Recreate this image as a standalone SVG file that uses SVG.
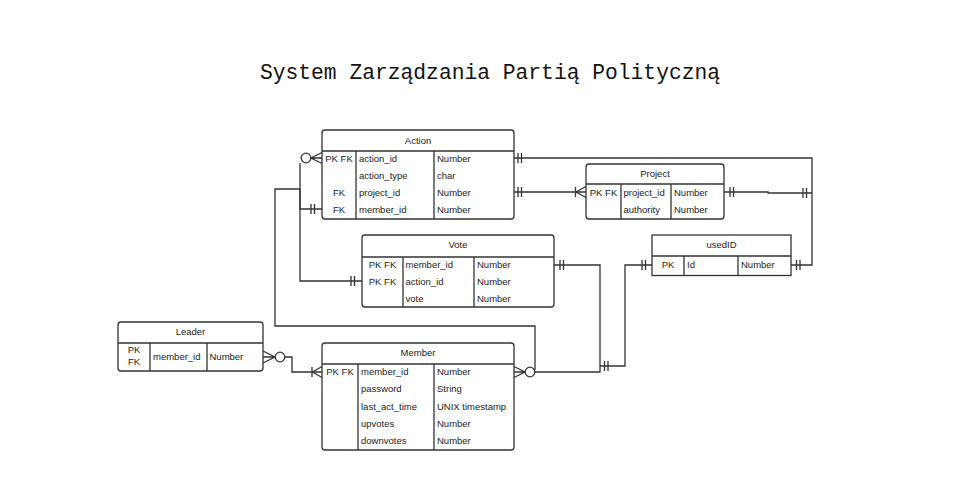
<svg xmlns="http://www.w3.org/2000/svg" width="956" height="496" viewBox="0 0 956 496">
<style>
.box{fill:#fff;stroke:#333;stroke-width:1.3}
.ln{fill:none;stroke:#333;stroke-width:1.3}
.t{font-family:"Liberation Sans",Arial,sans-serif;font-size:9.5px;fill:#222}
.c{text-anchor:middle}
.h{font-family:"Liberation Sans",Arial,sans-serif;font-size:9.5px;fill:#222;text-anchor:middle}
.title{font-family:"Liberation Mono","DejaVu Sans Mono",monospace;font-size:21.3px;fill:#111;text-anchor:middle}
</style>
<rect width="956" height="496" fill="#fff"/>
<text class="title" x="490" y="79">System Zarządzania Partią Polityczną</text>

<g id="connectors">
  <!-- Action.action_id o< ... || Vote.action_id -->
  <path class="ln" d="M300,163 V281 H362"/>
  <path class="ln" d="M351,276 V286 M354.5,276 V286"/>
  <circle class="ln" cx="306" cy="158" r="4.8" fill="#fff"/>
  <path class="ln" d="M322,152.5 L311,158 L322,163.5 M311,158 H322"/>
  <!-- Member right o< to Action.member_id -->
  <path class="ln" d="M535,370 V326 H275 V189 H300 V209 H322"/>
  <path class="ln" d="M311,204 V214 M314.5,204 V214"/>
  <!-- Member right to Vote.member_id -->
  <circle class="ln" cx="530" cy="372" r="4.8" fill="#fff"/>
  <path class="ln" d="M514,366.5 L525,372 L514,377.5 M514,372 H525"/>
  <path class="ln" d="M535,372 H600 V265 H554"/>
  <path class="ln" d="M560,260 V270 M563.5,260 V270"/>
  <!-- to usedID -->
  <path class="ln" d="M600,366 H625 V265 H652"/>
  <path class="ln" d="M604.5,361 V371 M608,361 V371"/>
  <path class="ln" d="M642,260 V270 M645.5,260 V270"/>
  <!-- Action.action_id || ... || usedID.Id -->
  <path class="ln" d="M514,158 H812 V265 H791"/>
  <path class="ln" d="M518,153 V163 M521.5,153 V163"/>
  <path class="ln" d="M796.5,260 V270 M800,260 V270"/>
  <!-- Action.project_id || ... |< Project.project_id -->
  <path class="ln" d="M514,192 H586"/>
  <path class="ln" d="M518,187 V197 M521.5,187 V197"/>
  <path class="ln" d="M575.5,187 V197 M586,186.5 L576,192 L586,197.5"/>
  <!-- Project right || ... || -->
  <path class="ln" d="M724,192 H768 V193 H812"/>
  <path class="ln" d="M730,187 V197 M733.5,187 V197"/>
  <path class="ln" d="M803,188 V198 M806.5,188 V198"/>
  <!-- Leader >o ... |< Member -->
  <circle class="ln" cx="280" cy="357" r="4.8" fill="#fff"/>
  <path class="ln" d="M263,351 L275,357 L263,363 M263,357 H275"/>
  <path class="ln" d="M285,357 H292 V372 H322"/>
  <path class="ln" d="M312,367 V377 M322,366.5 L312.5,372 L322,377.5"/>
</g>

<g id="action">
  <rect class="box" x="322" y="130" width="192" height="89" rx="3"/>
  <path class="ln" d="M322,151 H514 M356,151 V219 M434,151 V219"/>
  <text class="h" x="418" y="143.5">Action</text>
  <text class="t c" x="339" y="161.5">PK FK</text>
  <text class="t c" x="339" y="195.5">FK</text>
  <text class="t c" x="339" y="212.5">FK</text>
  <text class="t" x="359" y="161.5">action_id</text>
  <text class="t" x="359" y="178.5">action_type</text>
  <text class="t" x="359" y="195.5">project_id</text>
  <text class="t" x="359" y="212.5">member_id</text>
  <text class="t" x="437" y="161.5">Number</text>
  <text class="t" x="437" y="178.5">char</text>
  <text class="t" x="437" y="195.5">Number</text>
  <text class="t" x="437" y="212.5">Number</text>
</g>

<g id="project">
  <rect class="box" x="586" y="164" width="138" height="55" rx="3"/>
  <path class="ln" d="M586,184 H724 M621,184 V219 M671,184 V219"/>
  <text class="h" x="655" y="176.5">Project</text>
  <text class="t c" x="603.5" y="195.5">PK FK</text>
  <text class="t" x="623.5" y="195.5">project_id</text>
  <text class="t" x="623.5" y="212.5">authority</text>
  <text class="t" x="674" y="195.5">Number</text>
  <text class="t" x="674" y="212.5">Number</text>
</g>

<g id="usedID">
  <rect class="box" x="652" y="235" width="139" height="40.5"/>
  <path class="ln" d="M652,256 H791 M684,256 V275.5 M738,256 V275.5"/>
  <text class="h" x="721.5" y="247.5">usedID</text>
  <text class="t c" x="668" y="268">PK</text>
  <text class="t" x="687" y="268">Id</text>
  <text class="t" x="741" y="268">Number</text>
</g>

<g id="vote">
  <rect class="box" x="362" y="235" width="192" height="72" rx="3"/>
  <path class="ln" d="M362,257 H554 M403,257 V307 M474,257 V307"/>
  <text class="h" x="458" y="247.5">Vote</text>
  <text class="t c" x="382.5" y="267.5">PK FK</text>
  <text class="t c" x="382.5" y="284.5">PK FK</text>
  <text class="t" x="405.5" y="267.5">member_id</text>
  <text class="t" x="405.5" y="284.5">action_id</text>
  <text class="t" x="405.5" y="301.5">vote</text>
  <text class="t" x="477" y="267.5">Number</text>
  <text class="t" x="477" y="284.5">Number</text>
  <text class="t" x="477" y="301.5">Number</text>
</g>

<g id="leader">
  <rect class="box" x="118" y="322" width="145" height="49" rx="3"/>
  <path class="ln" d="M118,343 H263 M150,343 V371 M207,343 V371"/>
  <text class="h" x="190.5" y="334.5">Leader</text>
  <text class="t c" x="134" y="353">PK</text>
  <text class="t c" x="134" y="365">FK</text>
  <text class="t" x="153" y="359.5">member_id</text>
  <text class="t" x="209.5" y="359.5">Number</text>
</g>

<g id="member">
  <rect class="box" x="322" y="343" width="192" height="107" rx="3"/>
  <path class="ln" d="M322,364 H514 M358,364 V450 M434,364 V450"/>
  <text class="h" x="418" y="356">Member</text>
  <text class="t c" x="340" y="375">PK FK</text>
  <text class="t" x="361" y="375">member_id</text>
  <text class="t" x="361" y="392">password</text>
  <text class="t" x="361" y="409.5">last_act_time</text>
  <text class="t" x="361" y="426.5">upvotes</text>
  <text class="t" x="361" y="443.5">downvotes</text>
  <text class="t" x="437" y="375">Number</text>
  <text class="t" x="437" y="392">String</text>
  <text class="t" x="437" y="409.5">UNIX timestamp</text>
  <text class="t" x="437" y="426.5">Number</text>
  <text class="t" x="437" y="443.5">Number</text>
</g>
</svg>
